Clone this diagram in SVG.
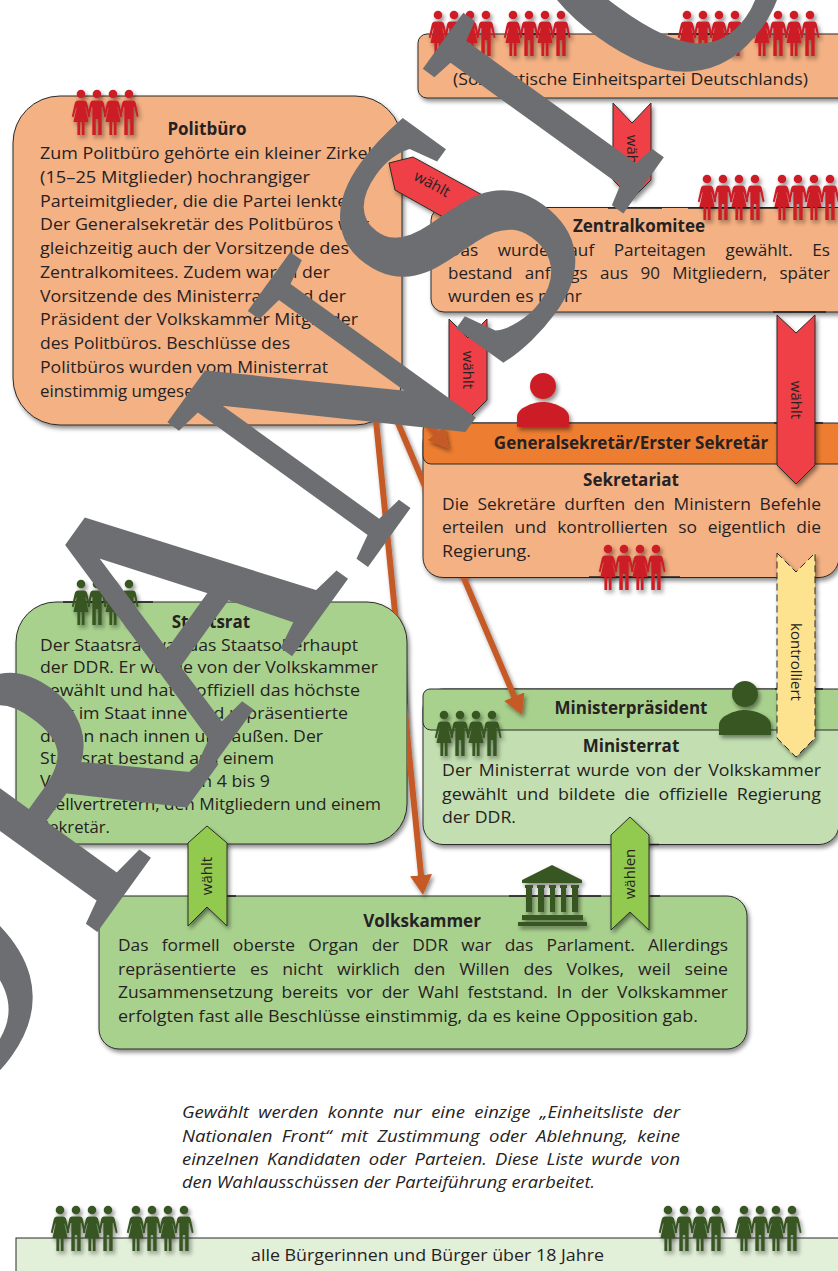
<svg xmlns="http://www.w3.org/2000/svg" width="838" height="1271" viewBox="0 0 838 1271">
<style>
text{font-family:"Open Sans","Noto Sans","Liberation Sans",sans-serif;font-size:17px;fill:#262223}
.t{font-weight:700;text-anchor:middle;font-size:17px}
.box{stroke:#2b2b2b;stroke-width:1}
.o{fill:#f4b183}.h{fill:#ed7d31}.g{fill:#a9d18e}.l{fill:#c3dfb1}.p{fill:#e2efd9}
.bar{stroke:#231f20;stroke-width:1.6;fill:none}
.rib{stroke:#2b2b2b;stroke-width:1;stroke-linejoin:miter}
.red{fill:#ef4146}.grn{fill:#92c950}.yel{fill:#fde28f;stroke-dasharray:7 4}
.rl{font-size:15px;text-anchor:middle}
.ar{fill:none;stroke:#c55a28;stroke-width:6}
.wm{font-family:"Liberation Serif",serif;font-size:370px;fill:#6d6e71;stroke:#6d6e71;stroke-width:5}
.i{font-style:italic;font-size:16px}
</style>
<defs>
<filter id="sh" x="-20%" y="-20%" width="150%" height="150%"><feDropShadow dx="2" dy="3" stdDeviation="2" flood-color="#000" flood-opacity=".45"/></filter>
<marker id="ah" markerUnits="userSpaceOnUse" markerWidth="20" markerHeight="22" refX="14" refY="11" orient="auto"><path d="M0 0L20 11L0 22Z" fill="#c55a28"/></marker>
<clipPath id="behind"><path clip-rule="evenodd" d="M0 0H838V1271H0ZM56 602H367A40 40 0 0 1 407 642V804A40 40 0 0 1 367 844H56A40 40 0 0 1 16 804V642A40 40 0 0 1 56 602ZM423 423H839V578H423Z"/></clipPath>
<g id="m"><circle r="4.3"/><path transform="scale(.78 1)" d="M-5 6.500H5C7.500 6.500 8.500 8 9 10L12.300 22.500L10 23.200L6.800 13H6V41H1.500V25H-1.500V41H-6V13H-6.800L-10 23.200L-12.300 22.500L-9 10C-8.500 8-7.500 6.500-5 6.500Z"/></g>
<g id="w"><circle r="4.3"/><path transform="scale(.8 1)" d="M-3.500 6.500H3.500C6 6.500 7.500 7.800 8 10L11.500 22.500L9.300 23.200L6 13.500H5.500L9.500 28H4.500V41H1V28H-1V41H-4.500V28H-9.500L-5.500 13.500H-6L-9.300 23.200L-11.500 22.500L-8 10C-7.500 7.800-6 6.500-3.500 6.500Z"/></g>
<g id="four"><use href="#w"/><use href="#m" x="16"/><use href="#w" x="32"/><use href="#m" x="48"/></g>
<g id="person"><circle r="13"/><path d="M-26 41V31C-26 22-10 16 0 16C10 16 26 22 26 31V41Z"/></g>
</defs>
<rect width="838" height="1271" fill="#fff"/>

<g id="sed">
<rect class="box o" x="418" y="34" width="430" height="64" rx="9" filter="url(#sh)"/>
<path class="bar" d="M517 34H570M668 34H743"/>
<text x="453" y="85" textLength="355" lengthAdjust="spacingAndGlyphs">(Sozialistische Einheitspartei Deutschlands)</text>
<g fill="#cc1f27" filter="url(#sh)"><use href="#four" x="438" y="15"/><use href="#four" x="513" y="15"/><use href="#four" x="687" y="15"/><use href="#four" x="762" y="15"/></g>
</g>

<g id="politbuero">
<rect class="box o" x="13" y="96" width="389" height="329" rx="47" filter="url(#sh)"/>
<use href="#four" x="81" y="94" fill="#cc1f27" filter="url(#sh)"/>
<text class="t" x="207" y="135">Politbüro</text>
<text x="40" y="159" textLength="332" lengthAdjust="spacingAndGlyphs">Zum Politbüro gehörte ein kleiner Zirkel</text>
<text x="40" y="183" textLength="270" lengthAdjust="spacingAndGlyphs">(15–25 Mitglieder) hochrangiger</text>
<text x="40" y="206.500" textLength="312" lengthAdjust="spacingAndGlyphs">Parteimitglieder, die die Partei lenkte.</text>
<text x="40" y="230" textLength="329" lengthAdjust="spacingAndGlyphs">Der Generalsekretär des Politbüros war</text>
<text x="40" y="254" textLength="309" lengthAdjust="spacingAndGlyphs">gleichzeitig auch der Vorsitzende des</text>
<text x="40" y="278" textLength="290" lengthAdjust="spacingAndGlyphs">Zentralkomitees. Zudem waren der</text>
<text x="40" y="302" textLength="306" lengthAdjust="spacingAndGlyphs">Vorsitzende des Ministerrats und der</text>
<text x="40" y="325" textLength="318" lengthAdjust="spacingAndGlyphs">Präsident der Volkskammer Mitglieder</text>
<text x="40" y="349" textLength="250" lengthAdjust="spacingAndGlyphs">des Politbüros. Beschlüsse des</text>
<text x="40" y="373" textLength="288" lengthAdjust="spacingAndGlyphs">Politbüros wurden vom Ministerrat</text>
<text x="40" y="397" textLength="178" lengthAdjust="spacingAndGlyphs">einstimmig umgesetzt.</text>
</g>

<g id="zentralkomitee">
<rect class="box o" x="431" y="207.500" width="420" height="104.500" rx="13" filter="url(#sh)"/>
<path class="bar" d="M608 208H662M688 208H778M773 312H826"/>
<text class="t" x="639" y="232">Zentralkomitee</text>
<text x="448" y="256" word-spacing="15" textLength="382" lengthAdjust="spacingAndGlyphs">Das wurde auf Parteitagen gewählt. Es</text>
<text x="448" y="279" word-spacing="8" textLength="382" lengthAdjust="spacingAndGlyphs">bestand anfangs aus 90 Mitgliedern, später</text>
<text x="448" y="302" textLength="134" lengthAdjust="spacingAndGlyphs">wurden es mehr</text>
<g fill="#cc1f27" filter="url(#sh)"><use href="#four" x="707" y="179"/><use href="#four" x="782" y="179"/></g>
</g>

<g id="sekretariat">
<rect class="box o" x="423" y="423" width="416" height="154.500" rx="20" filter="url(#sh)"/>
<path class="box h" d="M430 423H839V464H431A8 8 0 0 1 423 456V430A7 7 0 0 1 430 423Z"/>
<path class="bar" d="M589 577H680M774 423H823"/>
<text class="t" x="631" y="449">Generalsekretär/Erster Sekretär</text>
<text class="t" x="631" y="486">Sekretariat</text>
<text x="442" y="510" word-spacing="4" textLength="379" lengthAdjust="spacingAndGlyphs">Die Sekretäre durften den Ministern Befehle</text>
<text x="442" y="533" word-spacing="6" textLength="379" lengthAdjust="spacingAndGlyphs">erteilen und kontrollierten so eigentlich die</text>
<text x="442" y="557" textLength="89" lengthAdjust="spacingAndGlyphs">Regierung.</text>
<use href="#person" x="543" y="386" fill="#cc1f27" filter="url(#sh)"/>
<use href="#four" x="608" y="549" fill="#cc1f27" filter="url(#sh)"/>
</g>

<g id="ministerrat">
<rect class="box l" x="423" y="689" width="416" height="155.500" rx="20" filter="url(#sh)"/>
<path class="box g" d="M430 689H839V730H431A8 8 0 0 1 423 722V696A7 7 0 0 1 430 689Z"/>
<path class="bar" d="M775 689H823M649 844.500H659"/>
<text class="t" x="631" y="714">Ministerpräsident</text>
<text class="t" x="631" y="752">Ministerrat</text>
<text x="442" y="776" word-spacing="2" textLength="379" lengthAdjust="spacingAndGlyphs">Der Ministerrat wurde von der Volkskammer</text>
<text x="442" y="800" word-spacing="4" textLength="379" lengthAdjust="spacingAndGlyphs">gewählt und bildete die offizielle Regierung</text>
<text x="442" y="823" textLength="74" lengthAdjust="spacingAndGlyphs">der DDR.</text>
<use href="#person" x="745" y="694" fill="#385723" filter="url(#sh)"/>
<use href="#four" x="444" y="715" fill="#385723" filter="url(#sh)"/>
</g>

<g id="staatsrat">
<rect class="box g" x="16" y="602" width="391" height="242" rx="40" filter="url(#sh)"/>
<path class="bar" d="M63 602H153"/>
<use href="#four" x="81" y="584" fill="#385723" filter="url(#sh)"/>
<text class="t" x="211" y="628">Staatsrat</text>
<text x="40" y="651" textLength="318" lengthAdjust="spacingAndGlyphs">Der Staatsrat war das Staatsoberhaupt</text>
<text x="40" y="673" textLength="338" lengthAdjust="spacingAndGlyphs">der DDR. Er wurde von der Volkskammer</text>
<text x="40" y="696" textLength="320" lengthAdjust="spacingAndGlyphs">gewählt und hatte offiziell das höchste</text>
<text x="40" y="719" textLength="308" lengthAdjust="spacingAndGlyphs">Amt im Staat inne und repräsentierte</text>
<text x="40" y="742" textLength="283" lengthAdjust="spacingAndGlyphs">diesen nach innen und außen. Der</text>
<text x="40" y="764" textLength="234" lengthAdjust="spacingAndGlyphs">Staatsrat bestand aus einem</text>
<text x="40" y="787" textLength="230" lengthAdjust="spacingAndGlyphs">Vorsitzenden, seinen 4 bis 9</text>
<text x="40" y="810" textLength="341" lengthAdjust="spacingAndGlyphs">Stellvertretern, den Mitgliedern und einem</text>
<text x="40" y="833" textLength="70" lengthAdjust="spacingAndGlyphs">Sekretär.</text>
</g>

<g id="volkskammer">
<rect class="box g" x="99" y="896" width="648" height="153" rx="20" filter="url(#sh)"/>
<path class="bar" d="M227 896H236M509 896H601M650 896H660"/>
<text class="t" x="422" y="927">Volkskammer</text>
<text x="118" y="951" word-spacing="8.500" textLength="610" lengthAdjust="spacingAndGlyphs">Das formell oberste Organ der DDR war das Parlament. Allerdings</text>
<text x="118" y="975" word-spacing="9" textLength="610" lengthAdjust="spacingAndGlyphs">repräsentierte es nicht wirklich den Willen des Volkes, weil seine</text>
<text x="118" y="998" word-spacing="4" textLength="610" lengthAdjust="spacingAndGlyphs">Zusammensetzung bereits vor der Wahl feststand. In der Volkskammer</text>
<text x="118" y="1022" textLength="580" lengthAdjust="spacingAndGlyphs">erfolgten fast alle Beschlüsse einstimmig, da es keine Opposition gab.</text>
<g fill="#385723" filter="url(#sh)">
<path d="M552 865L582 880V883H522V880Z"/>
<path d="M525 885H533V888H532V912H526V888H525ZM537 885H545V888H544V912H538V888H537ZM549 885H556V888H555V912H550V888H549ZM560 885H567V888H566V912H561V888H560ZM571 885H579V888H578V912H572V888H571Z"/>
<rect x="522" y="915" width="61" height="5"/><rect x="518" y="922" width="69" height="4"/>
</g>
</g>

<g id="notiz">
<text class="i" x="182" y="1118" word-spacing="4" textLength="498" lengthAdjust="spacingAndGlyphs">Gewählt werden konnte nur eine einzige „Einheitsliste der</text>
<text class="i" x="182" y="1142" word-spacing="4" textLength="498" lengthAdjust="spacingAndGlyphs">Nationalen Front“ mit Zustimmung oder Ablehnung, keine</text>
<text class="i" x="182" y="1165" word-spacing="3" textLength="498" lengthAdjust="spacingAndGlyphs">einzelnen Kandidaten oder Parteien. Diese Liste wurde von</text>
<text class="i" x="182" y="1188" textLength="413" lengthAdjust="spacingAndGlyphs">den Wahlausschüssen der Parteiführung erarbeitet.</text>
</g>

<g id="buerger">
<rect class="box p" x="16" y="1238" width="840" height="50"/>
<text x="251" y="1261" textLength="353" lengthAdjust="spacingAndGlyphs">alle Bürgerinnen und Bürger über 18 Jahre</text>
<g fill="#385723" filter="url(#sh)"><use href="#four" x="60" y="1210"/><use href="#four" x="136" y="1210"/><use href="#four" x="668" y="1210"/><use href="#four" x="744" y="1210"/></g>
</g>

<g id="connectors">
<g clip-path="url(#behind)">
<path class="ar" marker-end="url(#ah)" filter="url(#sh)" d="M373 390L422.400 889"/>
<path class="ar" marker-end="url(#ah)" filter="url(#sh)" d="M384 390L519.700 709.500"/>
</g>
<path class="ar" marker-end="url(#ah)" filter="url(#sh)" d="M405 395L445 444"/>
<g filter="url(#sh)">
<path class="rib red" d="M613 103L632 123L651 103V180L632 199L613 180Z"/>
<path class="rib red" d="M389 163L413 157L486 197L459.500 205L468 231L395 190Z"/>
<path class="rib red" d="M449 319L468 338L487 319V400L468 419L449 400Z"/>
<path class="rib red" d="M777 315L796 333L815 315V465L796 484L777 465Z"/>
<path class="rib yel" d="M777 553L796 572L815 553V738L796 757L777 738Z"/>
<path class="rib grn" d="M611 835L630 817L649 835V930L630 912L611 930Z"/>
<path class="rib grn" d="M188 843L207 826L227 843V926L207 907L188 926Z"/>
</g>
<text class="rl" transform="translate(632 154) rotate(90)" y="5">wählt</text>
<text class="rl" transform="translate(432 184) rotate(28.700)" y="5">wählt</text>
<text class="rl" transform="translate(468 370) rotate(90)" y="5">wählt</text>
<text class="rl" transform="translate(796 400) rotate(90)" y="5">wählt</text>
<text class="rl" transform="translate(796 662) rotate(90)" y="5">kontrolliert</text>
<text class="rl" transform="translate(630 874) rotate(-90)" y="5">wählen</text>
<text class="rl" transform="translate(207 876) rotate(-90)" y="5">wählt</text>
</g>

<g id="watermark">
<text class="wm" transform="translate(-60 1145) rotate(-54.200) scale(.85 1)">O</text>
<text class="wm" transform="translate(90 938) rotate(-54.200) scale(.87 1)">R</text>
<text class="wm" transform="translate(207 770) rotate(-54.200) scale(.89 1)">A</text>
<text class="wm" transform="translate(362 571) rotate(-54.200) scale(.83 1)">N</text>
<text class="wm" transform="translate(497 384) rotate(-54.200) scale(.93 .97)">S</text>
<text class="wm" transform="translate(617 218) rotate(-54.200) scale(.68 1)">I</text>
<text class="wm" transform="translate(690 117) rotate(-54.200) scale(.85 1)">O</text>
</g>
</svg>
